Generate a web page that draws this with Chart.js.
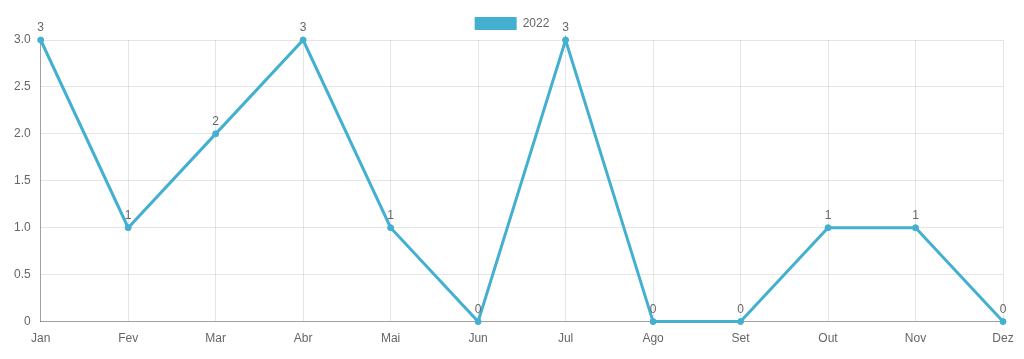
<!DOCTYPE html>
<html>
<head>
<meta charset="utf-8">
<script src="https://cdn.jsdelivr.net/npm/chart.js@4"></script>
<style>
  html, body { margin: 0; padding: 0; background: #fff; }
  #wrap { width: 1024px; height: 359px; position: relative; }
</style>
</head>
<body>
<div id="wrap"><canvas id="chart"></canvas></div>
<script>
// Data
const months = ['Jan', 'Fev', 'Mar', 'Abr', 'Mai', 'Jun', 'Jul', 'Ago', 'Set', 'Out', 'Nov', 'Dez'];
const values2022 = [3, 1, 2, 3, 1, 0, 3, 0, 0, 1, 1, 0];
const seriesLabel = '2022';
const lineColor = 'rgb(67, 176, 208)';

// Draw value labels above each point
const valueLabels = {
   id: 'valueLabels',
   afterDatasetsDraw(chart) {
      const ctx = chart.ctx;
      ctx.save();
      ctx.font = '12px Arial, "Liberation Sans", sans-serif';
      ctx.fillStyle = '#666';
      ctx.textAlign = 'center';
      ctx.textBaseline = 'bottom';
      chart.data.datasets.forEach((ds, i) => {
         chart.getDatasetMeta(i).data.forEach((pt, j) => {
            ctx.fillText(String(ds.data[j]), pt.x, pt.y - 6);
         });
      });
      ctx.restore();
   }
};

// Center the legend on the whole canvas, not on the padded box
const centerLegend = {
   id: 'centerLegend',
   afterLayout(chart) {
      const legend = chart.legend;
      if (!legend) return;
      legend.left = 0;
      legend.right = chart.width;
      legend.width = chart.width;
   }
};

Chart.defaults.font.family = 'Arial, "Liberation Sans", sans-serif';
Chart.defaults.font.size = 12;
Chart.defaults.color = '#666';

new Chart(document.getElementById('chart'), {
   type: 'line',
   data: {
      labels: months,
      datasets: [{
         label: seriesLabel,
         data: values2022,
         borderColor: lineColor,
         backgroundColor: lineColor,
         borderWidth: 3,
         pointRadius: 3,
         pointBorderWidth: 1,
         tension: 0,
         fill: false,
         clip: false
      }]
   },
   options: {
      responsive: true,
      maintainAspectRatio: false,
      animation: false,
      layout: { padding: { top: 7, right: 21, bottom: 3, left: 4 } },
      plugins: {
         legend: {
            labels: {
               boxWidth: 42,
               boxHeight: 13,
               padding: 10,
               // plain filled box, no stroke from the line width
               generateLabels: chart => Chart.defaults.plugins.legend.labels.generateLabels(chart)
                  .map(item => Object.assign(item, { lineWidth: 0 }))
            }
         },
         tooltip: { enabled: false }
      },
      scales: {
         x: {
            grid: { color: 'rgba(0,0,0,0.1)', drawTicks: false },
            border: { color: 'rgba(0,0,0,0.3)' },
            ticks: { padding: 10 }
         },
         y: {
            min: 0,
            max: 3,
            ticks: { stepSize: 0.5, padding: 10 },
            grid: { color: 'rgba(0,0,0,0.1)', drawTicks: false },
            border: { color: 'rgba(0,0,0,0.3)' }
         }
      }
   },
   plugins: [valueLabels, centerLegend]
});
</script>
</body>
</html>
